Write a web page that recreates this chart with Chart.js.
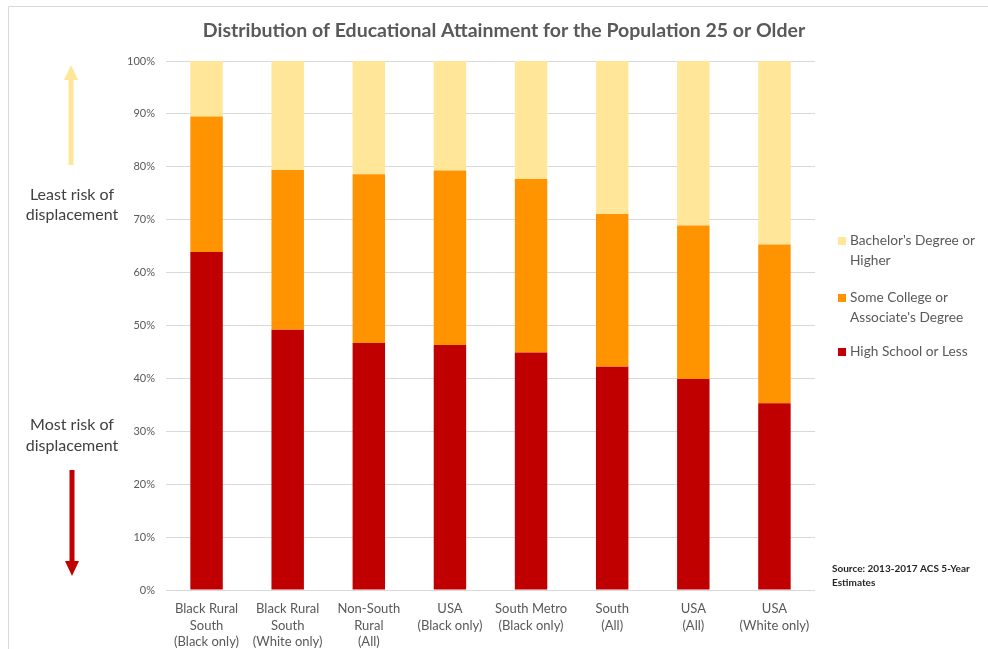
<!DOCTYPE html>
<html>
<head>
<meta charset="utf-8">
<style>
  html, body { margin: 0; padding: 0; background: #ffffff; }
  #wrap { width: 988px; height: 649px; position: relative; }
</style>
<script src="https://cdn.jsdelivr.net/npm/chart.js@4.4.1/dist/chart.umd.min.js"></script>
</head>
<body>
<div id="wrap"><canvas id="chart" width="988" height="649"></canvas></div>
<script>
// Regions compared (multi-line category labels)
const categories = [
  ["Black Rural", "South", "(Black only)"],
  ["Black Rural", "South", "(White only)"],
  ["Non-South", "Rural", "(All)"],
  ["USA", "(Black only)"],
  ["South Metro", "(Black only)"],
  ["South", "(All)"],
  ["USA", "(All)"],
  ["USA", "(White only)"]
];

// Share of the population 25+ by attainment level (%)
const highSchoolOrLess = [63.9, 49.2, 46.7, 46.3, 44.9, 42.2, 39.9, 35.3];
const someCollege      = [25.6, 30.2, 31.9, 33.0, 32.8, 28.9, 29.0, 30.0];
const bachelorsPlus    = [10.5, 20.6, 21.4, 20.7, 22.3, 28.9, 31.1, 34.7];

// Y axis ticks
const yTicks = [0, 10, 20, 30, 40, 50, 60, 70, 80, 90, 100];

const seriesNames = [
  ["High School or Less"],
  ["Some College or", "Associate's Degree"],
  ["Bachelor's Degree or", "Higher"]
];

const FONT = "Lato, 'Open Sans', sans-serif";
const GREY = "#595959";

// Frame, title, side annotations, legend and source note
const decorations = {
  id: "decorations",
  afterDraw(chart) {
    const ctx = chart.ctx;
    ctx.save();

    // outer frame
    ctx.strokeStyle = "#d9d9d9";
    ctx.lineWidth = 1;
    ctx.beginPath();
    ctx.moveTo(8.5, 649);
    ctx.lineTo(8.5, 6.5);
    ctx.lineTo(988, 6.5);
    ctx.stroke();

    // title
    ctx.fillStyle = GREY;
    ctx.font = "bold 19.5px " + FONT;
    ctx.textAlign = "center";
    ctx.textBaseline = "middle";
    ctx.fillText("Distribution of Educational Attainment for the Population 25 or Older", 504, 31);

    // arrows
    function arrow(x, yTail, yBase, yTip, color) {
      ctx.fillStyle = color;
      ctx.fillRect(x - 2.5, Math.min(yTail, yBase), 5, Math.abs(yBase - yTail));
      ctx.beginPath();
      ctx.moveTo(x - 7, yBase);
      ctx.lineTo(x + 7, yBase);
      ctx.lineTo(x, yTip);
      ctx.closePath();
      ctx.fill();
    }
    arrow(71, 165, 80, 65, "#ffe699");
    arrow(72, 470, 561, 576, "#c00000");

    ctx.fillStyle = "#404040";
    ctx.font = "16px " + FONT;
    ctx.textAlign = "center";
    ctx.textBaseline = "middle";
    ctx.fillText("Least risk of", 72, 195);
    ctx.fillText("displacement", 72, 215);
    ctx.fillText("Most risk of", 72, 425);
    ctx.fillText("displacement", 72, 446);

    // legend (top entry = top of stack)
    const legendRows = [
      { ds: 2, y: 241 },
      { ds: 1, y: 298 },
      { ds: 0, y: 352 }
    ];
    ctx.font = "13.7px " + FONT;
    ctx.textAlign = "left";
    legendRows.forEach(r => {
      const ds = chart.data.datasets[r.ds];
      ctx.fillStyle = ds.backgroundColor;
      ctx.fillRect(838, r.y - 4, 8, 8);
      ctx.fillStyle = GREY;
      ds.labelLines.forEach((t, i) => ctx.fillText(t, 850, r.y + i * 19.5));
    });

    // source note
    ctx.fillStyle = "#262626";
    ctx.font = "bold 10px " + FONT;
    ctx.fillText("Source: 2013-2017 ACS 5-Year", 832, 569);
    ctx.fillText("Estimates", 832, 583);

    ctx.restore();
  }
};

const ctx = document.getElementById("chart").getContext("2d");
new Chart(ctx, {
  type: "bar",
  data: {
    labels: categories,
    datasets: [
      { label: seriesNames[0].join(" "), labelLines: seriesNames[0], data: highSchoolOrLess, backgroundColor: "#c00000" },
      { label: seriesNames[1].join(" "), labelLines: seriesNames[1], data: someCollege, backgroundColor: "#ff9300" },
      { label: seriesNames[2].join(" "), labelLines: seriesNames[2], data: bachelorsPlus, backgroundColor: "#ffe699" }
    ]
  },
  options: {
    responsive: false,
    animation: false,
    events: [],
    datasets: { bar: { categoryPercentage: 0.8, barPercentage: 0.5, borderWidth: 0 } },
    layout: { padding: { left: 100, right: 173, top: 61, bottom: 0 } },
    plugins: {
      legend: { display: false },
      title: { display: false },
      tooltip: { enabled: false }
    },
    scales: {
      x: {
        stacked: true,
        grid: { display: false, drawTicks: false },
        border: { display: false },
        ticks: {
          color: GREY,
          font: { family: FONT, size: 13, lineHeight: 1.3 },
          padding: 10,
          maxRotation: 0,
          autoSkip: false
        },
        afterFit(scale) { scale.height = 59; }
      },
      y: {
        stacked: true,
        min: 0,
        max: 100,
        afterBuildTicks(scale) { scale.ticks = yTicks.map(v => ({ value: v })); },
        grid: { color: "#d9d9d9", lineWidth: 1, drawTicks: false },
        border: { display: false },
        ticks: {
          color: GREY,
          font: { family: FONT, size: 11 },
          padding: 11,
          callback: v => v + "%"
        },
        afterFit(scale) { scale.width = 66; }
      }
    }
  },
  plugins: [decorations]
});
</script>
</body>
</html>
